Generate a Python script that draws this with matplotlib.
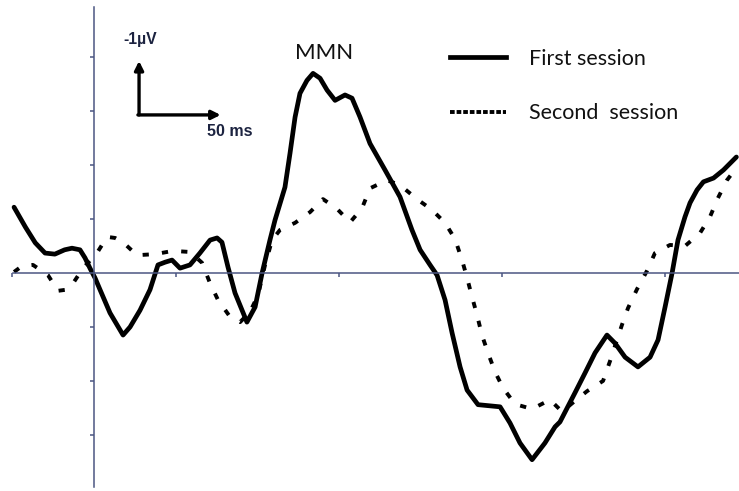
import matplotlib
matplotlib.use("Agg")
import matplotlib.pyplot as plt
from matplotlib.lines import Line2D

# ---------------- data (time in ms, amplitude in µV; negative plotted up) ----------------
t_first = [-49, -42, -36, -30, -24, -18, -13.5, -8.6, -5.5, -2.5, 0.6, 3.7, 9.8, 17.8,
           22.1, 28.2, 34.3, 39.2, 43.5, 47.8, 52.7, 58.8, 64.9, 71.1, 75.4, 78.4, 82.1,
           86.4, 93.7, 98.7, 103.0, 107.8, 110.9, 117.0, 120.1, 123.2, 126.2, 130.5,
           134.2, 138.5, 142.8, 147.7, 153.8, 158.1, 163.0, 169.1, 178.3, 187.5, 194.8,
           199.8, 205.9, 210.2, 215.1, 219.4, 224.3, 228.6, 235.3, 248.8, 254.9, 261.0,
           268.4, 276.3, 282.5, 285.5, 294.7, 300.9, 307.0, 314.3, 319.2, 325.4, 333.3,
           340.7, 345.6, 349.9, 354.2, 357.8, 362.1, 365.2, 369.5, 373.4, 379.6, 385.7,
           393.6]
v_first = [-1.22, -0.85, -0.56, -0.37, -0.35, -0.43, -0.46, -0.43, -0.28, -0.09, 0.09,
           0.31, 0.74, 1.15, 1.00, 0.69, 0.31, -0.15, -0.20, -0.24, -0.09, -0.15, -0.37,
           -0.61, -0.65, -0.57, -0.11, 0.37, 0.91, 0.63, 0.0, -0.61, -0.98, -1.59, -2.22,
           -2.89, -3.33, -3.57, -3.70, -3.61, -3.39, -3.20, -3.30, -3.24, -2.89, -2.40,
           -1.91, -1.41, -0.80, -0.43, -0.15, 0.04, 0.50, 1.11, 1.74, 2.17, 2.44, 2.48,
           2.78, 3.15, 3.46, 3.15, 2.85, 2.76, 2.22, 1.85, 1.48, 1.15, 1.30, 1.56, 1.74,
           1.56, 1.24, 0.63, 0.0, -0.61, -1.04, -1.30, -1.54, -1.69, -1.76, -1.91, -2.15]

t_second = [-49, -44.1, -37.4, -28.2, -22.1, -17.2, -13.5, -6.7, 1.8, 8.0, 12.9, 17.8,
            26.3, 37.4, 48.4, 58.8, 66.2, 71.1, 76.0, 83.3, 89.5, 95.6, 100.5, 104.8,
            109.1, 114.0, 123.2, 132.4, 140.3, 148.9, 156.9, 164.2, 169.1, 179.5, 187.5,
            197.9, 207.1, 215.1, 221.2, 225.5, 228.6, 231.6, 234.7, 237.7, 241.4, 245.7,
            250.6, 258.0, 268.4, 279.4, 286.8, 294.7, 302.1, 311.9, 316.2, 323.5, 327.2,
            332.7, 338.8, 343.7, 352.9, 362.1, 371.3, 377.4, 382.3, 387.8, 393.9]
v_second = [-0.02, -0.13, -0.15, 0.04, 0.33, 0.31, 0.22, -0.09, -0.37, -0.67, -0.65,
            -0.57, -0.33, -0.35, -0.41, -0.39, -0.19, 0.19, 0.50, 0.81, 0.91, 0.72, 0.41,
            -0.15, -0.61, -0.80, -0.93, -1.13, -1.37, -1.19, -0.94, -1.20, -1.57, -1.72,
            -1.63, -1.37, -1.17, -0.93, -0.63, -0.24, 0.09, 0.44, 0.78, 1.15, 1.48, 1.83,
            2.13, 2.43, 2.52, 2.35, 2.57, 2.37, 2.19, 2.00, 1.63, 0.96, 0.65, 0.30, -0.04,
            -0.37, -0.52, -0.50, -0.74, -1.04, -1.39, -1.72, -1.96]

labels = ["First session", "Second  session"]
x_ticks = [-50, 50, 150, 250, 350]
y_ticks = [-4, -3, -2, -1, 1, 2, 3]

# scale bar (origin, 50 ms, 1 µV)
bar_t0, bar_v0 = 27.6, -2.93
bar_dt, bar_dv = 50, -1

# ---------------- figure ----------------
fig = plt.figure(figsize=(7.39, 4.91), dpi=100)
ax = fig.add_axes([0, 0, 1, 1])
ax.set_xlim(-57.6, 395.2)
ax.set_ylim(4.04, -5.06)   # negative up

axis_col = "#4b5682"
for side in ("top", "right"):
    ax.spines[side].set_visible(False)
ax.spines["left"].set_position(("data", 0))
ax.spines["bottom"].set_position(("data", 0))
ax.spines["left"].set_bounds(3.97, -4.93)
ax.spines["bottom"].set_bounds(-49.8, 395.2)
for s in ("left", "bottom"):
    ax.spines[s].set_color(axis_col)
    ax.spines[s].set_linewidth(1.1)
ax.set_xticks(x_ticks)
ax.set_yticks(y_ticks)
ax.set_xticklabels([])
ax.set_yticklabels([])
ax.tick_params(axis="both", direction="out", length=3, width=1.1, color=axis_col)

ln1, = ax.plot(t_first, v_first, color="black", lw=3.4, solid_joinstyle="round",
               solid_capstyle="round")
ln2, = ax.plot(t_second, v_second, color="black", lw=2.8, dashes=(1.6, 3.4),
               dash_capstyle="butt")

# scale bar
arrow = dict(arrowstyle="-|>", lw=2.4, color="black", mutation_scale=13,
             shrinkA=0, shrinkB=0)
ax.annotate("", xy=(bar_t0, bar_v0 + bar_dv), xytext=(bar_t0, bar_v0), arrowprops=arrow)
ax.annotate("", xy=(bar_t0 + bar_dt, bar_v0), xytext=(bar_t0 - 0.7, bar_v0), arrowprops=arrow)
txt_col = "#1c2340"
ax.text(bar_t0 - 9.6, -4.33, "-1µV", ha="left", va="center", fontsize=11.3,
        fontweight="bold", color=txt_col, family="Liberation Sans")
ax.text(bar_t0 + 41.5, -2.63, "50 ms", ha="left", va="center", fontsize=11.5,
        fontweight="bold", color=txt_col, family="Liberation Sans")

ax.text(123.0, -4.08, "MMN", ha="left", va="center", fontsize=16, color="#111111",
        family="Lato")

h1 = Line2D([], [], color="black", lw=3.4)
h2 = Line2D([], [], color="black", lw=2.8, dashes=(1.2, 0.5))
leg = ax.legend([h1, h2], labels, loc="upper left", bbox_to_anchor=(450 / 739, 1 - 49 / 491),
                bbox_transform=fig.transFigure, frameon=False, borderpad=0, borderaxespad=0,
                handlelength=2.6, handletextpad=1.05, labelspacing=1.6,
                prop={"family": "Lato", "size": 15.5})
for t in leg.get_texts():
    t.set_color("#111111")

fig.savefig("out.png", dpi=100)
